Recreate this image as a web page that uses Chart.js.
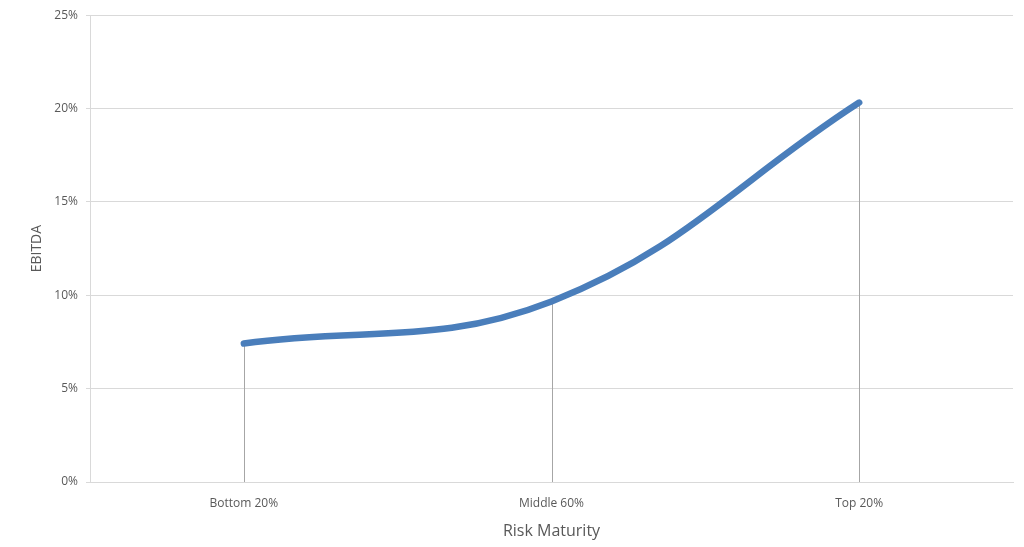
<!DOCTYPE html>
<html>
<head>
<meta charset="utf-8">
<script src="https://cdn.jsdelivr.net/npm/chart.js@4"></script>
<style>
  html, body { margin: 0; padding: 0; background: #fff; }
  #wrap { width: 1024px; height: 547px; }
</style>
</head>
<body>
<div id="wrap"><canvas id="chart" width="1024" height="547"></canvas></div>
<script>
let categories = ['Bottom 20%', 'Middle 60%', 'Top 20%'];
let ebitda = [7.42, 9.67, 20.32];
let yTicks = [0, 5, 10, 15, 20, 25];

// vertical drop lines from each point down to the x axis
let dropLines = {
    id: 'dropLines',
    beforeDatasetsDraw(chart) {
        let ctx = chart.ctx;
        let meta = chart.getDatasetMeta(0);
        let bottom = chart.scales.y.getPixelForValue(0);
        ctx.save();
        ctx.strokeStyle = '#a6a6a6';
        ctx.lineWidth = 1;
        meta.data.forEach((pt) => {
            let x = Math.round(pt.x) + 0.5;
            ctx.beginPath();
            ctx.moveTo(x, pt.y);
            ctx.lineTo(x, bottom);
            ctx.stroke();
        });
        ctx.restore();
    }
};

function generateChart(){
    let context = document.getElementById("chart").getContext("2d");
    let chart = new Chart(context, {
        type: 'line',
        data: {
            labels: categories,
            datasets: [{
                label: 'EBITDA',
                data: ebitda,
                borderColor: '#4a7ebb',
                borderWidth: 6.5,
                borderCapStyle: 'round',
                tension: 0.4,
                pointRadius: 0,
                fill: false
            }]
        },
        options: {
            responsive: false,
            animation: false,
            layout: { padding: { left: 29, right: 11, top: 14, bottom: 0 } },
            plugins: { legend: { display: false }, tooltip: { enabled: false } },
            scales: {
                x: {
                    offset: true,
                    grid: { display: false },
                    border: { display: true, color: '#d9d9d9', width: 1 },
                    ticks: { color: '#595959', font: { family: 'Open Sans', size: 12 }, padding: 6 },
                    title: { display: true, text: 'Risk Maturity', color: '#595959', font: { family: 'Open Sans', size: 16 }, padding: { top: 2, bottom: 6 } },
                    afterFit: (s) => { s.height = 65; }
                },
                y: {
                    min: 0,
                    max: 25,
                    afterBuildTicks: (s) => { s.ticks = yTicks.map(v => ({ value: v })); },
                    grid: { color: '#d9d9d9', tickLength: 4, drawTicks: true },
                    border: { display: true, color: '#d9d9d9' },
                    ticks: {
                        color: '#595959',
                        font: { family: 'Open Sans', size: 12 },
                        padding: 8,
                        callback: (v) => v + '%'
                    },
                    title: { display: true, text: 'EBITDA', color: '#595959', font: { family: 'Open Sans', size: 14 }, padding: { top: 0, bottom: 0 } },
                    afterFit: (s) => { s.width = 61; }
                }
            }
        },
        plugins: [dropLines]
    });
    return chart;
}
generateChart();
</script>
</body>
</html>
